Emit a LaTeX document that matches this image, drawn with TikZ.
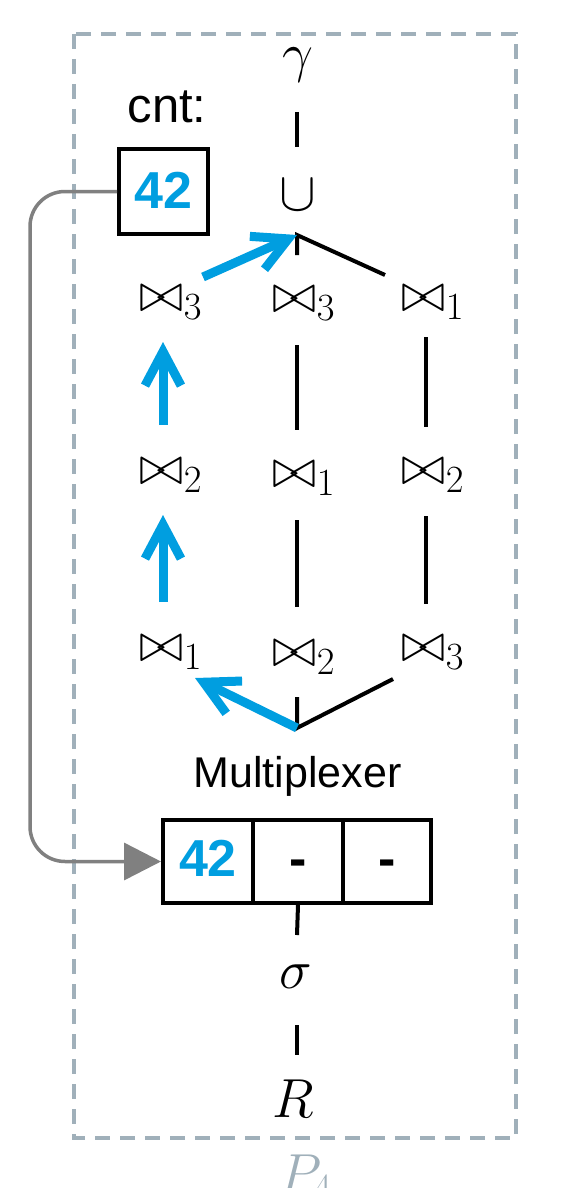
\RequirePackage{fix-cm}
\documentclass[tikz,border=0pt]{standalone}
\usepackage{fontspec}
\newfontfamily\arial{Liberation Sans}
\usetikzlibrary{arrows.meta}
\definecolor{myblue}{RGB}{0,158,224}
\definecolor{framecol}{RGB}{160,176,186}
\definecolor{conncol}{RGB}{128,128,128}
\begin{document}
\begin{tikzpicture}[x=1pt,y=-1pt,
  mth/.style={inner sep=0pt, font=\fontsize{55}{60}\selectfont},
  sanslbl/.style={inner sep=0pt, font=\fontsize{43}{50}\selectfont\arial},
  valbox/.style={draw=black, line width=4pt, inner sep=0pt, text=myblue,
    font=\fontsize{52}{60}\selectfont\arial\bfseries},
  ln/.style={line width=4pt},
  barrow/.style={myblue, line width=9pt, -{Straight Barb[length=34pt,width=36pt,line join=miter,line cap=butt]}}]
\useasboundingbox (0,0) rectangle (586,1188);
% frame
\draw[framecol, line width=4pt, dash pattern=on 15pt off 10pt] (74,34) rectangle (516,1138);
\node[mth, text=framecol, anchor=base west] (plabel) at (279,1192) {$P_4$};
% top
\node[mth, anchor=base] (gamma) at (298,72) {$\gamma$};
\node[mth, anchor=base] (cup) at (298,210) {$\cup$};
\node[sanslbl, font=\fontsize{49}{55}\selectfont\arial, anchor=base] (cntlbl) at (167,123) {cnt:};
\node[valbox, minimum width=89pt, minimum height=85pt, text height=37pt, text depth=4pt] (cnt) at (163.5,191.5) {42};
% join rows
\node[mth, anchor=base west] (r1l) at (139,311) {$\bowtie_3$};
\node[mth, anchor=base west] (r1m) at (272,312) {$\bowtie_3$};
\node[mth, anchor=base west] (r1r) at (401,311) {$\bowtie_1$};
\node[mth, anchor=base west] (r2l) at (139,484) {$\bowtie_2$};
\node[mth, anchor=base west] (r2m) at (272,487) {$\bowtie_1$};
\node[mth, anchor=base west] (r2r) at (401,484) {$\bowtie_2$};
\node[mth, anchor=base west] (r3l) at (139,661) {$\bowtie_1$};
\node[mth, anchor=base west] (r3m) at (272,666) {$\bowtie_2$};
\node[mth, anchor=base west] (r3r) at (401,661) {$\bowtie_3$};
% multiplexer
\node[sanslbl, anchor=base] (muxlbl) at (297.5,787) {Multiplexer};
\node[valbox, minimum width=90pt, minimum height=83pt, text height=37pt, text depth=8pt] (c1) at (208,861.5) {42};
\node[valbox, text=black, minimum width=90pt, minimum height=83pt, text height=37pt, text depth=8pt] (c2) at (298,861.5) {-};
\node[valbox, text=black, minimum width=88pt, minimum height=83pt, text height=37pt, text depth=8pt] (c3) at (387,861.5) {-};
\node[mth, anchor=base] (sigma) at (295.5,988) {$\sigma$};
\node[mth, anchor=base] (rel) at (293,1117) {$R$};
% coordinates
\coordinate (gb) at (297,112);
\coordinate (ct) at (297,147);
\coordinate (tj) at (297,235);
\coordinate (tjt) at (297,255);
\coordinate (tjr) at (385,275);
\coordinate (m12a) at (297,345); \coordinate (m12b) at (297,430);
\coordinate (m23a) at (297,520); \coordinate (m23b) at (297,607);
\coordinate (r12a) at (426,337); \coordinate (r12b) at (426,427);
\coordinate (r23a) at (426,516); \coordinate (r23b) at (426,604);
\coordinate (bj) at (297,728);
\coordinate (bjt) at (297,697);
\coordinate (bjr) at (393,679);
\coordinate (bl1) at (203,277);
\coordinate (l12a) at (163,425); \coordinate (l12b) at (163,342);
\coordinate (l23a) at (163,602); \coordinate (l23b) at (163,515);
\coordinate (bl4) at (195,678);
\coordinate (sb) at (297,935);
\coordinate (st) at (297,1025);
\coordinate (sr) at (297,1055);
% black lines
\draw[ln] (gb) -- (ct);
\draw[ln] (tjt) -- (tj) -- (tjr);
\draw[ln] (m12a) -- (m12b);
\draw[ln] (m23a) -- (m23b);
\draw[ln] (r12a) -- (r12b);
\draw[ln] (r23a) -- (r23b);
\draw[ln] (bjt) -- (bj) -- (bjr);
\draw[ln] (c2.south) -- (sb);
\draw[ln] (st) -- (sr);
% blue arrows
\draw[barrow] (bl1) -- (tj);
\draw[barrow] (l12a) -- (l12b);
\draw[barrow] (l23a) -- (l23b);
\draw[barrow] (bj) -- (bl4);
% gray connector
\draw[conncol, line width=3.5pt, rounded corners=35pt, -{Triangle[length=37pt,width=37pt]}]
  (cnt.west) -- ++(-87,0) |- (c1.west);
\end{tikzpicture}
\end{document}
